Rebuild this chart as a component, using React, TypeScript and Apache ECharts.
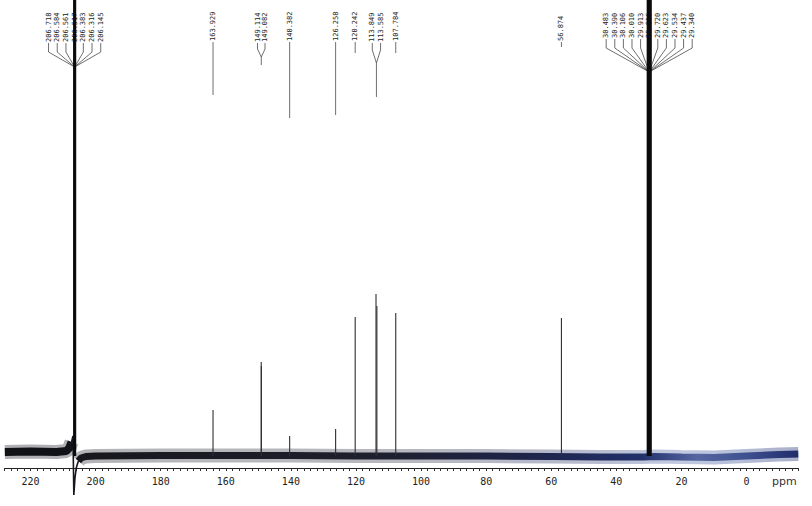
import React, { useEffect, useRef } from 'react';
import * as echarts from 'echarts';

// ---- axis ----
const axisMinPpm = -16;
const axisMaxPpm = 228;
const tickLabels = [220, 200, 180, 160, 140, 120, 100, 80, 60, 40, 20, 0];

// ---- solvent (acetone-d6) lines ----
const solventCOShifts = [206.718, 206.584, 206.561, 206.517, 206.383, 206.316, 206.145];
const solventCOHeights = [600, 600, 600, 600, 600, 600, 600];
const solventCD3Shifts = [30.483, 30.39, 30.106, 30.01, 29.913, 29.816, 29.72, 29.623, 29.534, 29.437, 29.34];
const solventCD3Heights = [600, 600, 600, 600, 600, 600, 600, 600, 600, 600, 600];

// ---- compound peaks ----
const peakShifts = [163.929, 149.114, 149.082, 140.382, 126.258, 120.242, 113.849, 113.585, 107.784, 56.874];
const peakHeights = [46, 94, 90, 20, 27, 139, 162, 150, 143, 138];

// ---- baseline (noise band centre) ----
const noiseLeftPpm = [227.9, 220, 212, 209, 208.1, 207.4];
const noiseLeftLevel = [4, 4.5, 4, 5, 8, 14];
const noiseRightPpm = [205.3, 204.5, 203, 200, 180, 160, 140, 120, 100, 80, 60, 45, 31.5, 28, 20, 10, 0, -10, -15.9];
const noiseRightLevel = [-5, -2, -0.5, 0, 0.5, 0.5, 0.5, 0, 0, 0, -0.5, -1, -1, -0.5, -1, -1.5, 0, 1.5, 2];

// ---- solvent dispersion around 206 ppm ----
const dispersionPpm = [208.1, 207.4, 206.95, 206.7, 206.35, 205.95, 205.5, 205.0, 204.3];
const dispersionLevel = [8, 14, 20, -39, -22, -12, -7, -3, -1];

const zip = (a: number[], b: number[]) => a.map((v, i) => [v, b[i]]);

const LABEL_FONT = '7px "DejaVu Sans Mono"';

export default function App() {
  const ref = useRef<HTMLDivElement>(null);

  useEffect(() => {
    if (!ref.current) return;
    const chart = echarts.init(ref.current, null, { renderer: 'svg' });

    const stickRender = (color: string, width: number) => (params: any, api: any) => {
      const p0 = api.coord([api.value(0), 0]);
      const p1 = api.coord([api.value(0), api.value(1)]);
      return {
        type: 'line',
        shape: { x1: p0[0], y1: p0[1], x2: p1[0], y2: p1[1] },
        style: { stroke: color, lineWidth: width },
      };
    };

    // offset 0 = left end of the band (high ppm), 1 = right end
    const bandGradient = (stops: [number, string][]) =>
      new echarts.graphic.LinearGradient(0, 0, 1, 0, stops.map(([o, c]) => ({ offset: o, color: c })));

    const rightOuter = bandGradient([
      [0, 'rgba(40,40,50,0.35)'],
      [0.4, 'rgba(50,52,70,0.35)'],
      [0.65, 'rgba(40,50,100,0.35)'],
      [0.84, 'rgba(100,120,180,0.4)'],
      [1, 'rgba(40,55,120,0.4)'],
    ]);
    const rightInner = bandGradient([
      [0, '#17171d'],
      [0.4, '#1e1f2c'],
      [0.62, '#1e2448'],
      [0.78, '#22306a'],
      [0.86, '#5566a0'],
      [0.93, '#3e4f90'],
      [1, '#1f2c6a'],
    ]);

    const option: any = {
      animation: false,
      backgroundColor: '#ffffff',
      grid: { left: 4.5, right: 13.4, top: 0, bottom: 38, containLabel: false, outerBoundsMode: 'none' },
      xAxis: {
        type: 'value',
        inverse: true,
        min: axisMinPpm,
        max: axisMaxPpm,
        interval: 2,
        axisLine: { show: true, onZero: false, lineStyle: { color: '#222', width: 1 } },
        axisTick: { show: true, length: 3, lineStyle: { color: '#333', width: 1 } },
        axisLabel: {
          margin: 8,
          color: '#222',
          fontFamily: 'DejaVu Sans Mono',
          fontSize: 10,
          formatter: (v: number) => (tickLabels.indexOf(Math.round(v)) >= 0 && Math.abs(v - Math.round(v)) < 1e-6 ? String(Math.round(v)) : ''),
        },
        splitLine: { show: false },
      },
      yAxis: { type: 'value', min: -12, max: 456, show: false },
      series: [
        {
          type: 'line', data: zip(noiseLeftPpm, noiseLeftLevel), symbol: 'none', silent: true, z: 1,
          lineStyle: { width: 14, color: 'rgba(30,30,40,0.35)' },
        },
        {
          type: 'line', data: zip(noiseLeftPpm, noiseLeftLevel), symbol: 'none', silent: true, z: 2,
          lineStyle: { width: 8, color: '#111217' },
        },
        {
          type: 'line', data: zip(noiseRightPpm, noiseRightLevel), symbol: 'none', silent: true, z: 1,
          lineStyle: { width: 14, color: rightOuter },
        },
        {
          type: 'line', data: zip(noiseRightPpm, noiseRightLevel), symbol: 'none', silent: true, z: 2,
          lineStyle: { width: 7, color: rightInner },
        },
        {
          type: 'line', data: zip(dispersionPpm, dispersionLevel), symbol: 'none', silent: true, z: 3, clip: false,
          lineStyle: { width: 1.6, color: '#15161f' },
        },
        {
          type: 'custom', data: zip(peakShifts, peakHeights), encode: { x: 0, y: 1 }, z: 4, silent: true,
          renderItem: stickRender('#2e2e34', 1.1),
        },
        {
          type: 'custom', data: zip(solventCOShifts, solventCOHeights), encode: { x: 0, y: 1 }, z: 4, silent: true,
          renderItem: stickRender('#0c0c10', 1.2),
        },
        {
          type: 'custom', data: zip(solventCD3Shifts, solventCD3Heights), encode: { x: 0, y: 1 }, z: 4, silent: true,
          renderItem: stickRender('#0c0c10', 1.3),
        },
      ],
    };
    chart.setOption(option);

    const px = (ppm: number) => chart.convertToPixel({ xAxisIndex: 0 }, ppm) as number;
    const lineStyle = { stroke: '#4a4a4a', lineWidth: 0.8, fill: null };
    const graphics: any[] = [];
    const addLabel = (text: string, x: number, yBottom: number) => {
      graphics.push({
        type: 'text', x, y: yBottom, rotation: Math.PI / 2, silent: true,
        style: { text, font: LABEL_FONT, fill: '#1c1c1c', align: 'left', verticalAlign: 'middle' },
      });
    };

    // grouped labels with converging leaders
    const groups = [
      { shifts: solventCOShifts, spacing: 8.7, centerPpm: 206.45, textBottom: 42, bendY: 52, joinY: 67, endY: 67 },
      { shifts: solventCD3Shifts, spacing: 8.6, centerPpm: 29.91, textBottom: 38, bendY: 48, joinY: 72, endY: 72 },
      { shifts: [peakShifts[1], peakShifts[2]], spacing: 7.5, centerPpm: 149.1, textBottom: 42, bendY: 49, joinY: 57, endY: 65 },
      { shifts: [peakShifts[6], peakShifts[7]], spacing: 8.3, centerPpm: 113.72, textBottom: 42, bendY: 50, joinY: 63, endY: 97 },
    ];
    groups.forEach((g) => {
      const cx = px(g.centerPpm);
      const n = g.shifts.length;
      g.shifts.forEach((s, i) => {
        const lx = cx + (i - (n - 1) / 2) * g.spacing;
        addLabel(s.toFixed(3), lx, g.textBottom);
        graphics.push({
          type: 'polyline', silent: true,
          shape: { points: [[lx, g.textBottom + 1], [lx, g.bendY], [cx, g.joinY]] },
          style: lineStyle,
        });
      });
      if (g.endY > g.joinY) {
        graphics.push({ type: 'line', silent: true, shape: { x1: cx, y1: g.joinY, x2: cx, y2: g.endY }, style: lineStyle });
      }
    });

    // single labels
    const singles: [number, number][] = [
      [peakShifts[0], 95],
      [peakShifts[3], 118],
      [peakShifts[4], 115],
      [peakShifts[5], 53],
      [peakShifts[8], 53],
      [peakShifts[9], 47],
    ];
    singles.forEach(([s, endY]) => {
      const x = px(s);
      addLabel(s.toFixed(3), x, 41);
      graphics.push({ type: 'line', silent: true, shape: { x1: x, y1: 42, x2: x, y2: endY }, style: lineStyle });
    });

    graphics.push({
      type: 'text', left: 772, top: 476, silent: true,
      style: { text: 'ppm', font: '11px "DejaVu Sans"', fill: '#333' },
    });

    chart.setOption({ graphic: graphics });

    return () => chart.dispose();
  }, []);

  return (
    <div
      ref={ref}
      style={{ position: 'absolute', left: 0, top: 0, width: 812, height: 506, background: '#fff' }}
    />
  );
}
